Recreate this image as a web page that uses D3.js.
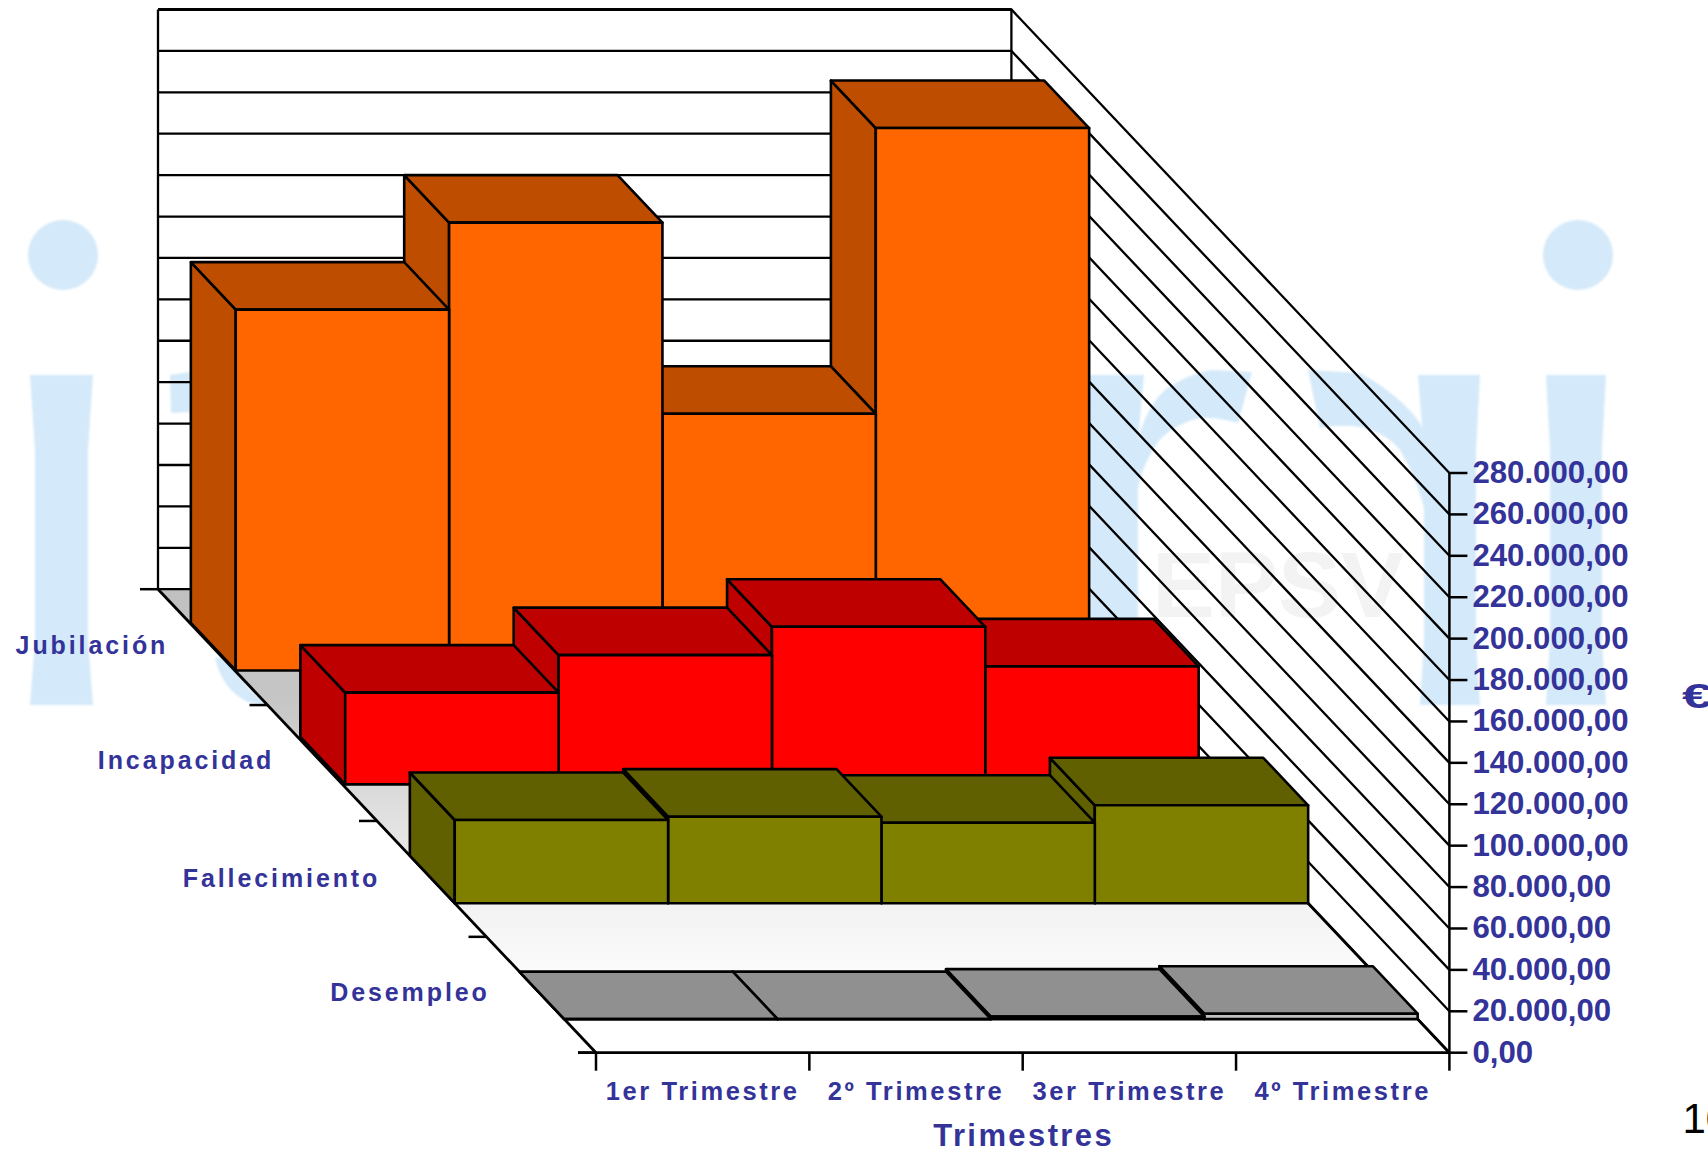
<!DOCTYPE html>
<html>
<head>
<meta charset="utf-8">
<title>Trimestres</title>
<script src="https://d3js.org/d3.v7.min.js"></script>
<style>
  html, body { margin: 0; padding: 0; background: #fff; overflow: hidden; }
  text { font-family: "Liberation Sans", Arial, sans-serif; font-weight: bold; fill: #333399; }
</style>
</head>
<body>
<div id="chart"></div>
<script>
// chart values
var trimestres = ["1er Trimestre", "2º Trimestre", "3er Trimestre", "4º Trimestre"];
var prestaciones = ["Jubilación", "Incapacidad", "Fallecimiento", "Desempleo"];
var jubilacion = [174300, 216300, 124000, 262000];
var incapacidad = [44300, 62400, 76100, 57000];
var fallecimiento = [40200, 41800, 38900, 47300];
var desempleo = [0, 0, 1200, 2600];
var yTicks = [0, 20000, 40000, 60000, 80000, 100000, 120000, 140000, 160000, 180000, 200000, 220000, 240000, 260000, 280000];
var yTickLabels = ["0,00", "20.000,00", "40.000,00", "60.000,00", "80.000,00", "100.000,00", "120.000,00", "140.000,00",
  "160.000,00", "180.000,00", "200.000,00", "220.000,00", "240.000,00", "260.000,00", "280.000,00"];
var series = [jubilacion, incapacidad, fallecimiento, desempleo];
var seriesColors = ["#ff6600", "#ff0000", "#808000", "#c0c0c0"];

var width = 1708, height = 1159;

// the oblique box: back-left-bottom corner plus how far the front is shifted
var originX = 158, originY = 589.2;
var depthX = 438, depthY = 463.5;

// the original rows do not sit exactly evenly on the floor
var rowNudgeY = [-1, -3, 0, 0];
var labelNudge = [[4.5, 0], [1, -1], [-2.5, 1], [-2.5, -1]];

var x = d3.scaleBand().domain(trimestres).range([0, 853.4]);
var y = d3.scaleLinear().domain([0, 280000]).range([0, 579.7]);
var depth = d3.scaleBand().domain(prestaciones).range([0, 1]);

function project(px, t, value) {
  return [originX + px + t * depthX, originY + t * depthY - y(value)];
}
function poly(points) {
  return "M" + points.map(p => p.join(",")).join("L") + "Z";
}

var svg = d3.select("#chart").append("svg")
    .attr("width", width)
    .attr("height", height)
    .style("display", "block");

var defs = svg.append("defs");
defs.append("filter").attr("id", "soft")
  .append("feGaussianBlur").attr("stdDeviation", 0.8);

// background logo, it shows through the walls
var logo = svg.append("g").attr("fill", "#d4e9f9").attr("filter", "url(#soft)");
[[63, 255], [1578, 255]].forEach(function(c) {
  logo.append("ellipse").attr("cx", c[0]).attr("cy", c[1]).attr("rx", 35).attr("ry", 35);
});
[
  "M30,375L93,375L88,450L88,640L93,705L30,705L35,640L35,450Z",
  "M1546,375L1606,375L1602,450L1602,640L1606,705L1546,705L1550,640L1550,450Z",
  "M1086,375L1144,375L1138,440L1138,705L1090,705L1090,440Z",
  "M1418,375L1480,375L1476,450L1476,640L1480,705L1420,705L1424,640L1424,450Z",
  "M1138,440Q1150,395 1176,383Q1195,372 1212,370L1252,372L1238,423Q1210,415 1192,420Q1165,430 1156,445Q1140,470 1138,490Z",
  "M1308,370L1360,373Q1400,395 1420,423L1440,473L1424,507Q1415,475 1400,450Q1385,432 1360,427Q1340,424 1320,428Z",
  "M170,375L190,372L190,412L171,413Z",
  "M215,657Q222,690 248,702L275,707L250,690L228,660Z"
].forEach(function(d) {
  logo.append("path").attr("d", d);
});
svg.append("text")
    .attr("x", 1152).attr("y", 617)
    .attr("textLength", 252)
    .attr("lengthAdjust", "spacingAndGlyphs")
    .style("font-size", "92px")
    .style("fill", "#f3f3f3")
    .text("EPSV");

// floor
var floorGrad = defs.append("linearGradient")
    .attr("id", "floorGrad")
    .attr("gradientUnits", "userSpaceOnUse")
    .attr("x1", 0).attr("x2", 0)
    .attr("y1", originY).attr("y2", originY + depthY);
[[0, "#c0c0c0"], [0.24, "#c6c6c6"], [0.45, "#dcdcdc"], [0.67, "#f2f2f2"], [0.82, "#fafafa"], [0.95, "#ffffff"]].forEach(function(s) {
  floorGrad.append("stop").attr("offset", s[0]).attr("stop-color", s[1]);
});
var xMax = x.range()[1];
svg.append("path")
    .attr("d", poly([project(0, 0, 0), project(xMax, 0, 0), project(xMax, 1, 0), project(0, 1, 0)]))
    .attr("fill", "url(#floorGrad)");

// gridlines on the back wall and side wall
var grid = svg.append("g").attr("stroke", "#000").attr("stroke-width", 2.3).attr("fill", "none");
yTicks.forEach(function(v) {
  var a = project(0, 0, v), b = project(xMax, 0, v), c = project(xMax, 1, v);
  grid.append("path").attr("d", "M" + a + "L" + b + "L" + c);
});
grid.append("path").attr("d", "M" + project(0, 0, 0) + "L" + project(0, 0, 280000));
grid.append("path").attr("d", "M" + project(xMax, 0, 0) + "L" + project(xMax, 0, 280000));
grid.append("path").attr("d", "M" + project(0, 0, 280000) + "L" + project(xMax, 0, 280000)).attr("stroke-width", 3);
grid.append("path").attr("d", "M" + project(0, 0, 0) + "L" + project(0, 1, 0)).attr("stroke-width", 2.8);
grid.append("path").attr("d", "M" + project(xMax, 0, 0) + "L" + project(xMax, 1, 0)).attr("stroke-width", 2.8);

// bars, back row first, and right to left inside a row because the view is from the left
var barFront = 0.71, barBack = 0.30;
var bars = svg.append("g").attr("stroke", "#000").attr("stroke-width", 2.6).attr("stroke-linejoin", "round");
prestaciones.forEach(function(name, r) {
  var t0 = depth(name) + depth.bandwidth() * barBack;
  var t1 = depth(name) + depth.bandwidth() * barFront;
  var base = seriesColors[r];
  var dark = d3.rgb(d3.rgb(base).r * 0.75, d3.rgb(base).g * 0.75, d3.rgb(base).b * 0.75).formatHex();
  var row = bars.append("g").attr("transform", "translate(0," + rowNudgeY[r] + ")");
  d3.range(trimestres.length - 1, -1, -1).forEach(function(i) {
    var v = series[r][i];
    var x0 = x(trimestres[i]), x1 = x0 + x.bandwidth();
    var g = row.append("g");
    g.append("path")
        .attr("d", poly([project(x0, t0, 0), project(x0, t1, 0), project(x0, t1, v), project(x0, t0, v)]))
        .attr("fill", dark);
    g.append("path")
        .attr("d", poly([project(x0, t0, v), project(x1, t0, v), project(x1, t1, v), project(x0, t1, v)]))
        .attr("fill", dark);
    g.append("path")
        .attr("d", poly([project(x0, t1, 0), project(x1, t1, 0), project(x1, t1, v), project(x0, t1, v)]))
        .attr("fill", base);
  });
});

// value axis on the front right corner
var axes = svg.append("g").attr("stroke", "#000").attr("stroke-width", 2.5).attr("fill", "none");
var tickLen = 18;
axes.append("path").attr("d", "M" + project(xMax, 1, 0) + "L" + project(xMax, 1, 280000));
yTicks.forEach(function(v, i) {
  var p = project(xMax, 1, v);
  axes.append("line")
      .attr("x1", p[0]).attr("x2", p[0] + tickLen)
      .attr("y1", p[1]).attr("y2", p[1]);
  svg.append("text")
      .attr("x", p[0] + 23)
      .attr("y", p[1] + 10)
      .style("font-size", "31.2px")
      .text(yTickLabels[i]);
});

// category axis along the front
axes.append("path").attr("d", "M" + project(-tickLen, 1, 0) + "L" + project(xMax, 1, 0)).attr("stroke-width", 2.8);
trimestres.concat([null]).forEach(function(name, i) {
  var px = name ? x(name) : xMax;
  var p = project(px, 1, 0);
  axes.append("line")
      .attr("x1", p[0]).attr("x2", p[0])
      .attr("y1", p[1]).attr("y2", p[1] + tickLen);
  if (name) {
    svg.append("text")
        .attr("x", p[0] + x.bandwidth() / 2)
        .attr("y", p[1] + 47)
        .attr("text-anchor", "middle")
        .style("font-size", "25.5px")
        .style("letter-spacing", "2.6px")
        .text(name);
  }
});
var titlePos = project(xMax / 2, 1, 0);
svg.append("text")
    .attr("x", titlePos[0] + 1)
    .attr("y", titlePos[1] + 93)
    .attr("text-anchor", "middle")
    .style("font-size", "31px")
    .style("letter-spacing", "2.4px")
    .text("Trimestres");

// depth axis down the left side of the floor
d3.range(0, 5).forEach(function(k) {
  var p = project(0, k / 4, 0);
  axes.append("line")
      .attr("x1", p[0] - tickLen).attr("x2", p[0])
      .attr("y1", p[1]).attr("y2", p[1]);
});
prestaciones.forEach(function(name, r) {
  var p = project(0, depth(name) + depth.bandwidth() / 2, 0);
  svg.append("text")
      .attr("x", p[0] - 49 + labelNudge[r][0])
      .attr("y", p[1] + 7 + labelNudge[r][1])
      .attr("text-anchor", "end")
      .style("font-size", "25px")
      .style("letter-spacing", "2.9px")
      .text(name);
});

// cut off by the edge of the page in the original too
svg.append("text")
    .attr("x", 1682).attr("y", 708)
    .attr("textLength", 30)
    .attr("lengthAdjust", "spacingAndGlyphs")
    .style("font-size", "35px")
    .text("€");
svg.append("text")
    .attr("x", 1682.5).attr("y", 1133)
    .style("font-size", "42px")
    .style("font-weight", "normal")
    .style("fill", "#000")
    .text("10");
</script>
</body>
</html>
